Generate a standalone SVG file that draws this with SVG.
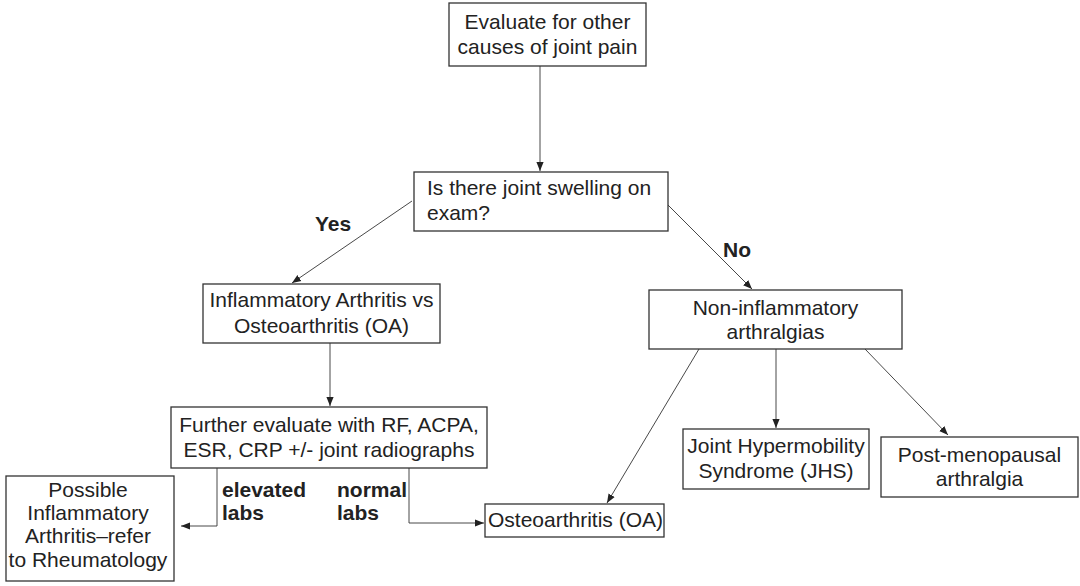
<svg xmlns="http://www.w3.org/2000/svg" width="1080" height="586" viewBox="0 0 1080 586">
<defs>
<style>
.box{fill:#fff;stroke:#333;stroke-width:1.3}
.t{font-family:"Liberation Sans",Arial,sans-serif;font-size:21px;fill:#222}
.c{text-anchor:middle}
.b{font-weight:bold}
.ln{fill:none;stroke:#333;stroke-width:0.9}
</style>
<marker id="ah" viewBox="0 0 10 10" refX="10" refY="5" markerWidth="9" markerHeight="9" markerUnits="userSpaceOnUse" orient="auto">
<path d="M0,1 L10,5 L0,9 Z" fill="#222"/>
</marker>
</defs>
<rect width="1080" height="586" fill="#fff"/>
<g id="connectors">
<path class="ln" d="M540,66 V171" marker-end="url(#ah)"/>
<path class="ln" d="M412,201 L292,283" marker-end="url(#ah)"/>
<path class="ln" d="M668,205 L752,289" marker-end="url(#ah)"/>
<path class="ln" d="M330,343 V406" marker-end="url(#ah)"/>
<path class="ln" d="M217,468 V526 H181" marker-end="url(#ah)"/>
<path class="ln" d="M409,468 V523 H484" marker-end="url(#ah)"/>
<path class="ln" d="M699,349 L607,503" marker-end="url(#ah)"/>
<path class="ln" d="M776,349 V428" marker-end="url(#ah)"/>
<path class="ln" d="M865,349 L948,435" marker-end="url(#ah)"/>
<text class="t b" x="315" y="231">Yes</text>
<text class="t b" x="723" y="257">No</text>
<text class="t b" x="222" y="497">elevated</text>
<text class="t b" x="222" y="520">labs</text>
<text class="t b" x="337" y="497">normal</text>
<text class="t b" x="337" y="520">labs</text>
</g>
<g id="n-evaluate">
<rect class="box" x="449" y="3" width="197" height="63"/>
<text class="t c" x="547.5" y="29">Evaluate for other</text>
<text class="t c" x="547.5" y="54">causes of joint pain</text>
</g>
<g id="n-swelling">
<rect class="box" x="414" y="172" width="254" height="59"/>
<text class="t" x="427" y="195">Is there joint swelling on</text>
<text class="t" x="427" y="220">exam?</text>
</g>
<g id="n-inflam">
<rect class="box" x="203" y="284" width="237" height="59"/>
<text class="t c" x="321.5" y="307">Inflammatory Arthritis vs</text>
<text class="t c" x="321.5" y="333">Osteoarthritis (OA)</text>
</g>
<g id="n-noninflam">
<rect class="box" x="649" y="290" width="253" height="59"/>
<text class="t c" x="775.5" y="315">Non-inflammatory</text>
<text class="t c" x="775.5" y="339">arthralgias</text>
</g>
<g id="n-further">
<rect class="box" x="171" y="407" width="316" height="61"/>
<text class="t c" x="329" y="432">Further evaluate with RF, ACPA,</text>
<text class="t c" x="329" y="457">ESR, CRP +/- joint radiographs</text>
</g>
<g id="n-possible">
<rect class="box" x="6" y="476" width="168" height="105"/>
<text class="t c" x="88" y="497">Possible</text>
<text class="t c" x="88" y="520">Inflammatory</text>
<text class="t c" x="88" y="543">Arthritis–refer</text>
<text class="t c" x="88" y="567">to Rheumatology</text>
</g>
<g id="n-oa">
<rect class="box" x="485" y="504" width="179" height="33"/>
<text class="t" x="488" y="527">Osteoarthritis (OA)</text>
</g>
<g id="n-jhs">
<rect class="box" x="683" y="429" width="186" height="60"/>
<text class="t c" x="776" y="453">Joint Hypermobility</text>
<text class="t c" x="776" y="478">Syndrome (JHS)</text>
</g>
<g id="n-post">
<rect class="box" x="881" y="437" width="197" height="60"/>
<text class="t c" x="979.5" y="462">Post-menopausal</text>
<text class="t c" x="979.5" y="486">arthralgia</text>
</g>
</svg>
